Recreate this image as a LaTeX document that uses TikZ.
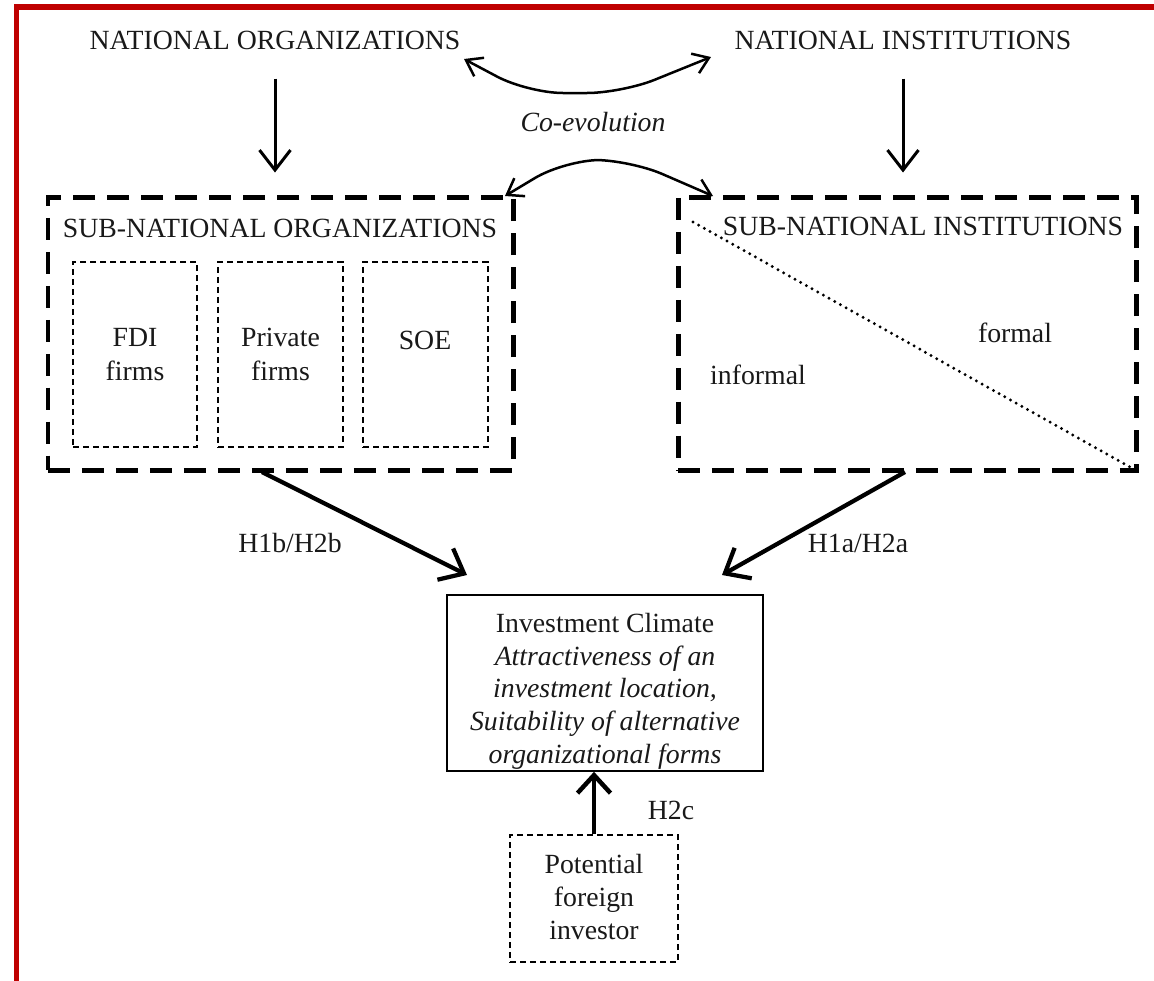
\documentclass[tikz,border=0pt]{standalone}
\usepackage{fontspec}
\setmainfont{Liberation Serif}
\usetikzlibrary{arrows.meta,fit,calc}
\begin{document}
\begin{tikzpicture}[x=0.02cm,y=-0.02cm,
  every node/.style={font=\fontsize{15.8}{18.5}\selectfont, inner sep=0pt, text=black!90},
  txt/.style={align=center},
  bigdash/.style={draw, line width=0.1cm, dash pattern=on 0.44cm off 0.24cm},
  thindash/.style={draw, line width=0.9pt, dash pattern=on 0.12cm off 0.08cm},
  solidbox/.style={draw, line width=0.9pt},
  arr/.style={line width=0.06cm, -{Straight Barb[length=0.4cm,width=0.62cm,line width=0.06cm]}},
  darr/.style={line width=0.05cm, rounded corners=0.7cm, {Straight Barb[length=0.3cm,width=0.42cm,line width=0.05cm]}-{Straight Barb[length=0.3cm,width=0.42cm,line width=0.05cm]}},
  diagarr/.style={line width=0.085cm, -{Straight Barb[length=0.42cm,width=0.7cm,line width=0.085cm]}},
  uparr/.style={line width=0.09cm, -{Straight Barb[length=0.36cm,width=0.66cm,line width=0.09cm]}},
  redline/.style={draw=red!75!black, line width=0.12cm}
]
\useasboundingbox (0,0) rectangle (1154,981);
% red frame
\draw[redline] (16.5,981) -- (16.5,7) -- (1154,7);

% top titles
\node (no) at (275,40) {NATIONAL ORGANIZATIONS};
\node (ni) at (903,40) {NATIONAL INSTITUTIONS};
\node (co) at (593,122) {\itshape Co-evolution};

% big boxes
\node[bigdash, fit={(48,197) (513,470)}] (so) {};
\node[bigdash, fit={(678,197) (1136,470)}] (si) {};
\node (sot) at (280,228) {SUB-NATIONAL ORGANIZATIONS};
\node (sit) at (923,226) {SUB-NATIONAL INSTITUTIONS};

% inner boxes
\node[thindash, fit={(73,262) (197,447)}] (fdi) {};
\node[thindash, fit={(218,262) (343,447)}] (pri) {};
\node[thindash, fit={(363,262) (488,447)}] (soe) {};
\node[txt, font=\fontsize{15.8}{19.8}\selectfont] at (fdi.center) (fdit) {FDI\\firms};
\node[txt, font=\fontsize{15.8}{19.8}\selectfont] at (pri.center) (prit) {Private\\firms};
\node (soet) at (425,340) {SOE};

% institutions split
\coordinate (d1) at (693,222);
\coordinate (d2) at (1130,467);
\draw[line width=0.065cm, line cap=round, dash pattern=on 0pt off 0.13cm] (d1) -- (d2);
\node (formal) at (1015,333) {formal};
\node (informal) at (758,375) {informal};

% investment climate
\node[solidbox, fit={(447,595) (763,771)}] (ic) {};
\node[txt, font=\fontsize{15.8}{18.6}\selectfont] (ict) at (605,691) {Investment Climate\\\itshape Attractiveness of an\\\itshape investment location,\\\itshape Suitability of alternative\\\itshape organizational forms};

% potential investor
\node[thindash, fit={(510,835) (678,962)}] (pfi) {};
\node[txt, font=\fontsize{15.8}{18.6}\selectfont] (pfit) at (594,897) {Potential\\foreign\\investor};

% labels
\node (h1b) at (290,543) {H1b/H2b};
\node (h1a) at (858,543) {H1a/H2a};
\node (h2c) at (671,810) {H2c};

% arrows
\draw[arr, shorten <=29*0.02cm, shorten >=22*0.02cm] (no.south) -- (no.south |- so.north);
\draw[arr, shorten <=29*0.02cm, shorten >=22*0.02cm] (ni.south) -- (ni.south |- si.north);

\coordinate (ca) at (464,59);
\coordinate (cb) at (711,57);
\draw[darr] (ca) -- (528,93) -- (622,93) -- (cb);
\coordinate (cc) at (505,196);
\coordinate (cd) at (713,196);
\draw[darr] (cc) -- (565,160) -- (630,160) -- (cd);

\coordinate (lb) at (262,472);
\coordinate (lt) at (467,575);
\draw[diagarr] (lb) -- (lt);
\coordinate (rb) at (905,472);
\coordinate (rt) at (722,575);
\draw[diagarr] (rb) -- (rt);

\draw[uparr] (pfi.north) -- (pfi.north |- ic.south);
\end{tikzpicture}
\end{document}
